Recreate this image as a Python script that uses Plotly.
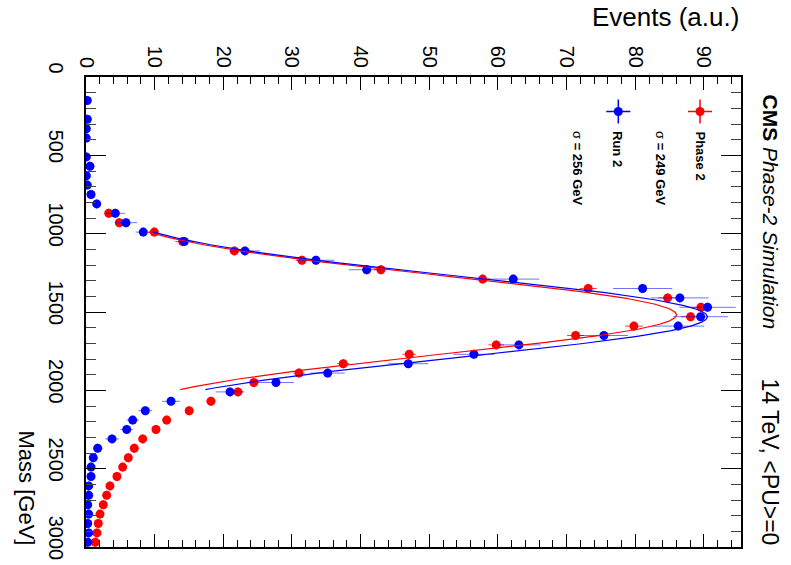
import numpy as np
import plotly.graph_objects as go

# ---- binned invariant-mass spectra (60 GeV bins, values at bin centres) ----
BIN_HALF_WIDTH = 30.0  # GeV

run2_mass = [150, 270, 330, 390, 510, 570, 630, 690, 750, 810,
             870, 930, 990, 1050, 1110, 1170, 1230, 1290, 1350, 1410,
             1470, 1530, 1590, 1650, 1710, 1770, 1830, 1890, 1950, 2010,
             2070, 2130, 2190, 2250, 2310, 2370, 2430, 2490, 2550, 2610,
             2670, 2730, 2790, 2850, 2910, 2970]
run2_events = [0.19, 0.19, 0.05, 0.05, 0.05, 0.58, 0.05, 0.19, 0.73, 1.56,
               4.27, 5.82, 8.34, 14.31, 23.15, 33.49, 40.88, 62.23, 81.07, 86.5,
               90.53, 89.52, 86.25, 75.43, 63.05, 56.5, 46.94, 35.2, 27.67, 20.97,
               12.38, 8.64, 6.8, 5.93, 3.79, 1.7, 1.06, 0.73, 0.73, 0.39,
               0.39, 0.25, 0.39, 0.25, 0.39, 0.25]
run2_err = [0.1, 0.1, 0.05, 0.05, 0.05, 0.3, 0.05, 0.1, 0.35, 0.6,
            1.4, 1.6, 1.1, 1.3, 2.2, 2.7, 2.6, 3.8, 4.3, 4.2,
            4.1, 4.0, 3.8, 3.5, 3.2, 3.0, 2.9, 2.5, 2.6, 2.1,
            1.3, 1.0, 0.9, 0.9, 1.0, 0.7, 0.5, 0.4, 0.4, 0.3,
            0.3, 0.25, 0.3, 0.25, 0.3, 0.25]

phase2_mass = [870, 930, 990, 1050, 1110, 1170, 1230, 1290, 1350, 1410,
               1470, 1530, 1590, 1650, 1710, 1770, 1830, 1890, 1950, 2010,
               2070, 2130, 2190, 2250, 2310, 2370, 2430, 2490, 2550, 2610,
               2670, 2730, 2790, 2850, 2910, 2970]
phase2_events = [3.31, 4.85, 9.95, 14.08, 21.6, 31.45, 42.96, 57.77, 73.15, 84.71,
                 89.56, 88.06, 79.8, 71.31, 59.75, 47.08, 37.47, 31.02, 24.44, 22.13,
                 18.2, 15.03, 11.75, 10.19, 8.26, 7.03, 6.16, 5.34, 4.51, 3.49,
                 3.01, 2.52, 2.04, 1.79, 1.6, 1.35]
phase2_err = [0.3, 0.35, 0.5, 0.6, 0.7, 0.85, 1.0, 1.1, 1.25, 1.35,
              1.4, 1.4, 1.3, 1.25, 1.15, 1.0, 0.9, 0.85, 0.75, 0.7,
              0.65, 0.6, 0.5, 0.5, 0.45, 0.4, 0.4, 0.35, 0.32, 0.3,
              0.28, 0.25, 0.22, 0.2, 0.2, 0.18]

# ---- Gaussian fit results ----
phase2_fit = {"norm": 86.0, "mean": 1518.0, "sigma": 249.0}
run2_fit = {"norm": 90.5, "mean": 1530.0, "sigma": 256.0}
FIT_RANGE = (990.0, 1995.0)

RED = "#ff0000"
BLUE = "#0000ff"
FONT = "Liberation Sans, Arial, Helvetica, sans-serif"

W, H = 791, 565
M_L, M_R, M_T, M_B = 86, 50, 77, 18
PW, PH = W - M_L - M_R, H - M_T - M_B


def gauss(m, p):
    return p["norm"] * np.exp(-0.5 * ((m - p["mean"]) / p["sigma"]) ** 2)


def px_x(px):
    return (px - M_L) / PW


def px_y(py):
    return 1 - (py - M_T) / PH


fig = go.Figure()

# data points: events on the horizontal axis, mass on the vertical axis
for mass, ev, err, col, ecol in [
    (phase2_mass, phase2_events, phase2_err, RED, "rgba(255,0,0,0.75)"),
    (run2_mass, run2_events, run2_err, BLUE, "rgba(0,0,255,0.55)"),
]:
    fig.add_trace(go.Scatter(
        x=ev, y=mass, mode="markers",
        marker=dict(symbol="circle", size=9, color=col),
        error_x=dict(type="data", array=err, color=ecol, thickness=1, width=0),
        error_y=dict(type="constant", value=BIN_HALF_WIDTH, color=ecol, thickness=1, width=0),
        showlegend=False, hoverinfo="skip",
    ))

# fitted Gaussians
m_fit = np.linspace(FIT_RANGE[0], FIT_RANGE[1], 300)
for p, col in [(phase2_fit, RED), (run2_fit, BLUE)]:
    fig.add_trace(go.Scatter(
        x=gauss(m_fit, p), y=m_fit, mode="lines",
        line=dict(color=col, width=1.2),
        showlegend=False, hoverinfo="skip",
    ))

# legend keys (drawn on a hidden overlay in plot-fraction units)
key_x = [px_x(700), px_x(618.3)]
key_y = [px_y(111.5), px_y(111.5)]
for kx, ky, col in [(key_x[0], key_y[0], RED), (key_x[1], key_y[1], BLUE)]:
    fig.add_trace(go.Scatter(
        x=[kx], y=[ky], xaxis="x2", yaxis="y2", mode="markers",
        marker=dict(symbol="circle", size=9, color=col),
        error_x=dict(type="constant", value=12 / PW, color=col, thickness=1.5, width=0),
        error_y=dict(type="constant", value=12 / PH, color=col, thickness=1.5, width=0),
        showlegend=False, hoverinfo="skip",
    ))

axis_common = dict(
    showgrid=False, zeroline=False, automargin=False,
    showline=True, linecolor="black", linewidth=2, mirror="ticks",
    ticks="inside", tickcolor="black", tickwidth=1,
    tickangle=90, ticklabeloverflow="allow",
    tickfont=dict(family=FONT, size=20, color="black"),
)

fig.update_layout(
    width=W, height=H,
    margin=dict(l=M_L, r=M_R, t=M_T, b=M_B, autoexpand=False),
    paper_bgcolor="white", plot_bgcolor="white",
    font=dict(family=FONT, color="black"),
    xaxis=dict(
        axis_common, side="top", range=[0, 95.4],
        tick0=0, dtick=10, ticklen=13,
        minor=dict(dtick=2, ticklen=7, ticks="inside", tickcolor="black", tickwidth=1),
    ),
    yaxis=dict(
        axis_common, range=[3000, 0],
        tick0=0, dtick=500, ticklen=20, ticklabelstandoff=11, ticklabelshift=6,
        minor=dict(dtick=100, ticklen=10, ticks="inside", tickcolor="#444", tickwidth=1),
    ),
    xaxis2=dict(overlaying="x", range=[0, 1], visible=False),
    yaxis2=dict(overlaying="y", range=[0, 1], visible=False),
)

annotations = [
    dict(text="Events (a.u.)", x=1.0, y=px_y(17), xanchor="right", yanchor="middle",
         font=dict(size=26)),
    dict(text="Mass [GeV]", x=px_x(26), y=px_y(547), xanchor="center", yanchor="bottom",
         textangle=90, font=dict(size=22)),
    dict(text="<b>CMS</b> <i>Phase-2 Simulation</i>", x=px_x(770), y=px_y(92),
         xanchor="center", yanchor="top", textangle=90, font=dict(size=21)),
    dict(text="14 TeV, &lt;PU&gt;=0", x=px_x(770), y=px_y(547),
         xanchor="center", yanchor="bottom", textangle=90, font=dict(size=23)),
    dict(text="<b>Phase 2</b>", x=px_x(700), y=px_y(129),
         xanchor="center", yanchor="top", textangle=90, font=dict(size=13)),
    dict(text="σ<b> = 249 GeV</b>", x=px_x(660), y=px_y(129),
         xanchor="center", yanchor="top", textangle=90, font=dict(size=13)),
    dict(text="<b>Run 2</b>", x=px_x(617), y=px_y(129),
         xanchor="center", yanchor="top", textangle=90, font=dict(size=13)),
    dict(text="σ<b> = 256 GeV</b>", x=px_x(577), y=px_y(129),
         xanchor="center", yanchor="top", textangle=90, font=dict(size=13)),
]
for a in annotations:
    a.update(xref="paper", yref="paper", showarrow=False)
    a["font"] = dict(family=FONT, color="black", **a["font"])
fig.update_layout(annotations=annotations)

fig.write_html("out.html")
